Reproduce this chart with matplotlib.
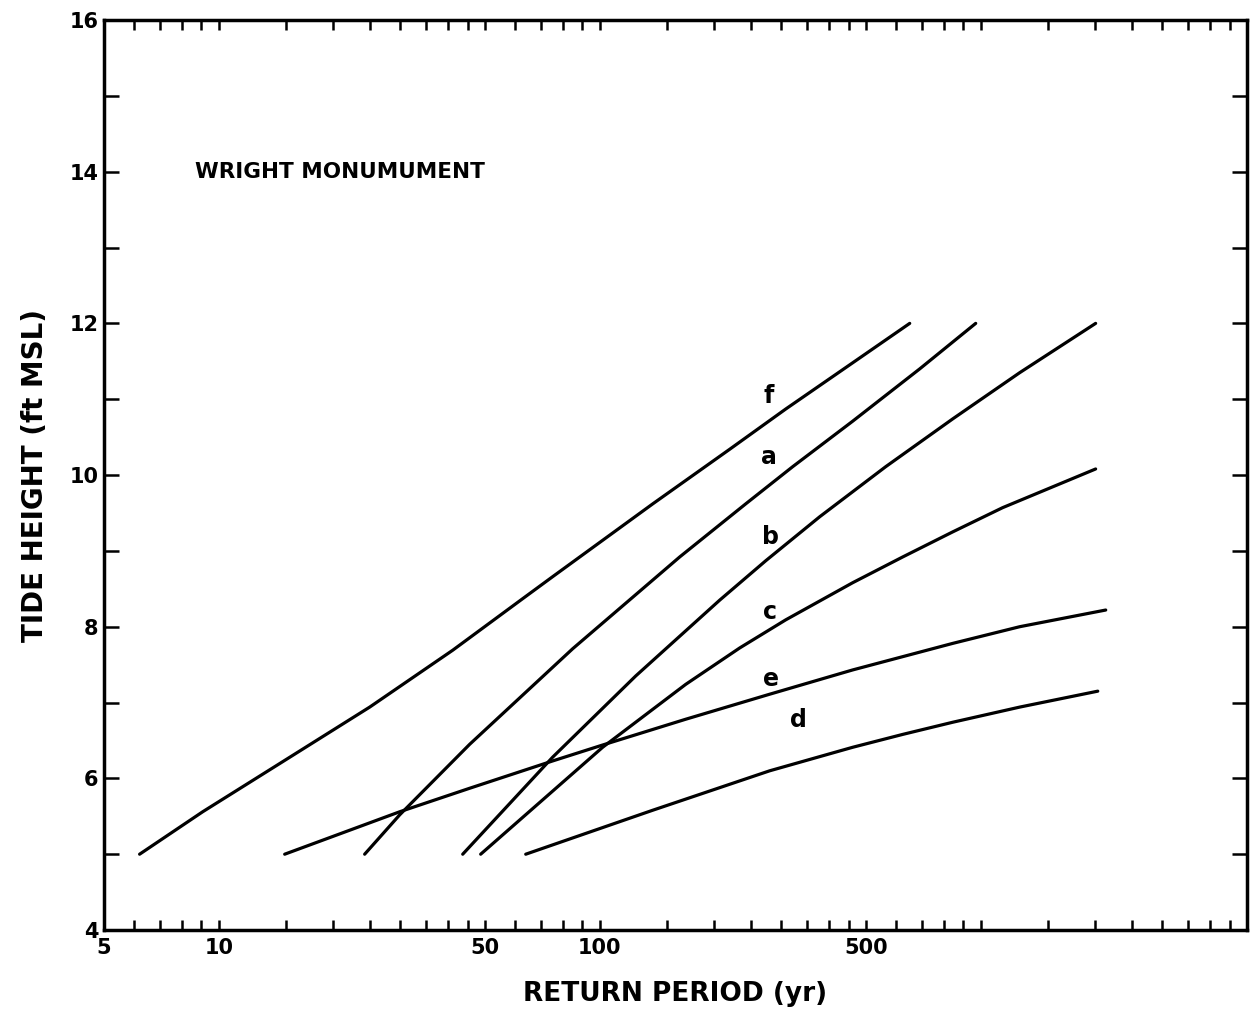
import numpy as np
import matplotlib.pyplot as plt

# tide height (ft MSL) vs return period (yr)
f_period = [6.2, 9.08, 14.72, 24.91, 41.14, 62.8, 75.27, 137.8, 219.4, 307.7, 461.3, 651.2]
f_height = [5.0, 5.56, 6.22, 6.94, 7.69, 8.37, 8.66, 9.62, 10.34, 10.87, 11.48, 12.0]

a_period = [24.16, 29.87, 45.59, 84.96, 162.2, 241.7, 321.0, 461.3, 691.8, 970.3]
a_height = [5.0, 5.52, 6.45, 7.71, 8.92, 9.62, 10.11, 10.71, 11.40, 12.0]

b_period = [43.7, 75.27, 124.3, 206.5, 272.8, 378.0, 563.2, 844.2, 1266, 2003]
b_height = [5.0, 6.28, 7.35, 8.35, 8.87, 9.45, 10.11, 10.74, 11.35, 12.0]

c_period = [48.71, 101.8, 168.2, 233.1, 307.7, 461.3, 624.3, 844.2, 1142, 2003]
c_height = [5.0, 6.41, 7.24, 7.72, 8.09, 8.58, 8.92, 9.25, 9.57, 10.08]

e_period = [14.9, 29.87, 45.59, 75.27, 101.8, 168.2, 279.4, 461.3, 844.2, 1266, 2129]
e_height = [5.0, 5.56, 5.87, 6.23, 6.44, 6.78, 7.11, 7.43, 7.78, 8.0, 8.22]

d_period = [63.95, 137.8, 279.4, 461.3, 624.3, 844.2, 1266, 2029]
d_height = [5.0, 5.58, 6.10, 6.41, 6.58, 6.74, 6.94, 7.15]

# curve letters and where they sit
labels = ["f", "a", "b", "c", "e", "d"]
label_x = [278, 278, 280, 280, 282, 333]
label_y = [11.04, 10.24, 9.18, 8.19, 7.31, 6.77]

x_major = [5, 10, 50, 100, 500]
x_major_labels = ["5", "10", "50", "100", "500"]
x_minor = [6, 7, 8, 9,
           15, 20, 25, 30, 35, 40, 45, 60, 70, 80, 90,
           150, 200, 250, 300, 350, 400, 450, 600, 700, 800, 900, 1000,
           1500, 2000, 2500, 3000, 3500, 4000, 4500]

plt.rcParams['font.family'] = ['DejaVu Sans']
plt.rcParams['font.weight'] = 'bold'

fig = plt.figure(figsize=(12.5, 10.17), dpi=100)
ax = fig.add_axes([0.0832, 0.0855, 0.9144, 0.8948])

for xs, ys in [(f_period, f_height), (a_period, a_height), (b_period, b_height),
               (c_period, c_height), (e_period, e_height), (d_period, d_height)]:
    ax.plot(xs, ys, color='black', lw=2.3, solid_capstyle='round',
            solid_joinstyle='round')

for lab, lx, ly in zip(labels, label_x, label_y):
    ax.text(lx, ly, lab, fontsize=17, fontweight='bold', ha='center', va='center')

ax.text(8.65, 14.0, "WRIGHT MONUMUMENT", fontsize=15.5, fontweight='bold',
        ha='left', va='center')

ax.set_xscale('log')
ax.set_xlim(5, 5000)
ax.set_ylim(4, 16)

ax.set_xticks(x_major)
ax.set_xticklabels(x_major_labels)
ax.set_xticks(x_minor, minor=True)
ax.set_xticklabels([], minor=True)
ax.set_yticks(np.arange(4, 17, 2))
ax.set_yticks(np.arange(5, 16, 2), minor=True)

ax.tick_params(which='both', direction='in', top=True, right=True, width=1.8,
               labelsize=15)
ax.tick_params(axis='x', which='major', length=7, pad=6)
ax.tick_params(axis='x', which='minor', length=7)
ax.tick_params(axis='y', which='both', length=11, pad=4)

for sp in ax.spines.values():
    sp.set_linewidth(2.5)

ax.set_xlabel("RETURN PERIOD (yr)", fontsize=19, fontweight='bold', labelpad=16)
ax.set_ylabel("TIDE HEIGHT (ft MSL)", fontsize=20, fontweight='bold', labelpad=15)

fig.savefig("out.png", dpi=100)
